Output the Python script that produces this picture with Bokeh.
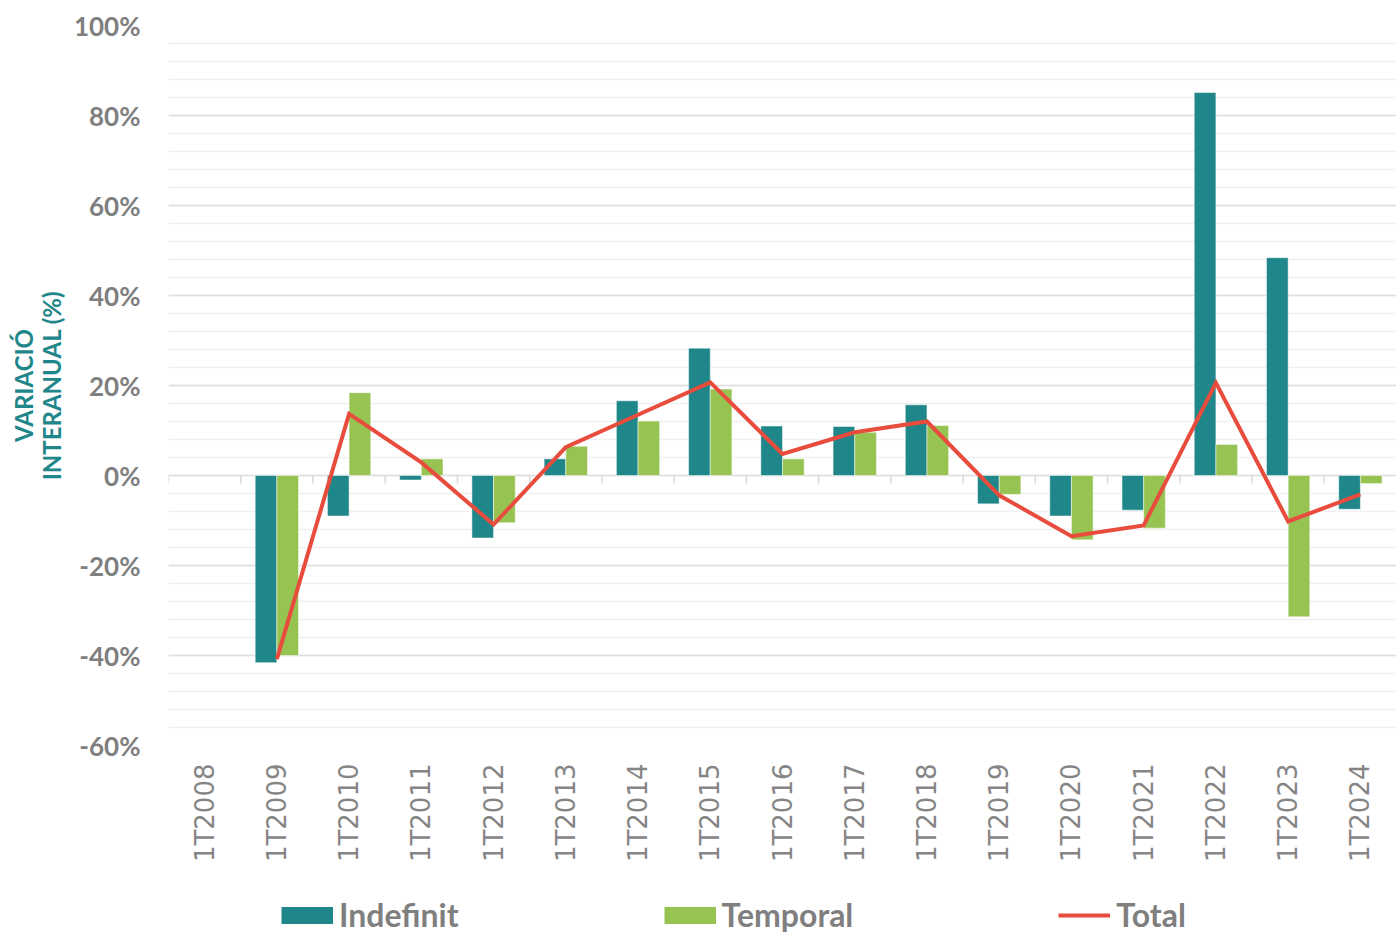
import math
from bokeh.plotting import figure
from bokeh.layouts import column
from bokeh.models import (ColumnDataSource, Range1d, FactorRange, SingleIntervalTicker,
                          CustomJSTickFormatter, Legend, LegendItem)
from bokeh.transform import dodge
from bokeh.embed import file_html
from bokeh.resources import INLINE

nan = float("nan")
categories = ["1T2008", "1T2009", "1T2010", "1T2011", "1T2012", "1T2013", "1T2014",
              "1T2015", "1T2016", "1T2017", "1T2018", "1T2019", "1T2020", "1T2021",
              "1T2022", "1T2023", "1T2024"]
indefinit = [nan, -41.6, -9.0, -1.0, -13.9, 3.7, 16.6, 28.3, 11.0, 10.9, 15.7, -6.3,
             -9.0, -7.7, 85.1, 48.4, -7.5]
temporal = [nan, -40.0, 18.4, 3.7, -10.5, 6.5, 12.1, 19.2, 3.7, 9.6, 11.1, -4.2,
            -14.3, -11.7, 6.9, -31.4, -1.8]
total = [nan, -40.8, 13.7, 2.9, -10.9, 6.3, 13.5, 20.7, 4.8, 9.6, 12.0, -4.4,
         -13.5, -11.1, 20.6, -10.2, -4.2]
series_labels = ["Indefinit", "Temporal", "Total"]

TEAL = "#1f868a"
GREEN = "#97c352"
RED = "#e84c3d"
GRAY = "#7f7f7f"

src = ColumnDataSource(data=dict(cat=categories, ind=indefinit, tem=temporal, tot=total,
                                 zero=[0] * len(categories), tick=[-1.8] * len(categories)))

p = figure(width=1396, height=890, output_backend="svg", toolbar_location=None,
           x_range=FactorRange(*categories), y_range=Range1d(-60, 100),
           min_border_left=168, min_border_right=0, min_border_top=25, min_border_bottom=145)
p.outline_line_color = None
p.background_fill_color = "white"

# grid
yt = SingleIntervalTicker(interval=20, num_minor_ticks=5)
p.yaxis.ticker = yt
p.ygrid.ticker = yt
p.ygrid.grid_line_color = "#dedede"
p.ygrid.grid_line_width = 1.5
p.ygrid.minor_grid_line_color = "#f0f0f0"
p.ygrid.minor_grid_line_width = 1.5
p.xgrid.grid_line_color = None

# y axis
p.yaxis.formatter = CustomJSTickFormatter(code="return tick.toFixed(0) + '%';")
p.yaxis.axis_line_color = None
p.yaxis.major_tick_line_color = None
p.yaxis.minor_tick_line_color = None
p.yaxis.major_label_standoff = 22
p.yaxis.major_label_text_font = "Lato"
p.yaxis.major_label_text_font_style = "bold"
p.yaxis.major_label_text_font_size = "26px"
p.yaxis.major_label_text_color = GRAY
p.yaxis.axis_label = "VARIACIÓ\nINTERANUAL (%)"
p.yaxis.axis_label_text_font = "Lato"
p.yaxis.axis_label_text_font_style = "bold"
p.yaxis.axis_label_text_font_size = "24px"
p.yaxis.axis_label_text_color = TEAL
p.yaxis.axis_label_standoff = 5
p.yaxis.axis_label_text_line_height = 0.95

# x axis
p.xaxis.axis_line_color = None
p.xaxis.major_tick_line_color = None
p.xaxis.minor_tick_line_color = None
p.xaxis.major_label_orientation = math.pi / 2
p.xaxis.major_label_standoff = 12
p.xaxis.major_label_text_font = "DejaVu Sans"
p.xaxis.major_label_text_font_size = "26px"
p.xaxis.major_label_text_color = "#858585"

# zero line tick marks at category boundaries
p.segment(x0=dodge("cat", -0.5, range=p.x_range), y0="zero",
          x1=dodge("cat", -0.5, range=p.x_range), y1="tick",
          source=src, line_color="#d9d9d9", line_width=1.5)

# bars
p.vbar(x=dodge("cat", -0.15, range=p.x_range), top="ind", bottom=0, width=0.3,
       source=src, fill_color=TEAL, line_color="white", line_width=0.5)
p.vbar(x=dodge("cat", 0.15, range=p.x_range), top="tem", bottom=0, width=0.3,
       source=src, fill_color=GREEN, line_color="white", line_width=0.5)
p.line(x="cat", y="tot", source=src, line_color=RED, line_width=4, line_join="miter")

# legend strip as a separate figure so nothing is clipped
lf = figure(width=1396, height=44, output_backend="svg", toolbar_location=None,
            x_range=Range1d(0, 1), y_range=Range1d(0, 1),
            min_border_left=168, min_border_right=0, min_border_top=0, min_border_bottom=0)
lf.axis.visible = False
lf.grid.visible = False
lf.outline_line_color = None
proxy = ColumnDataSource(data=dict(x=[nan], y=[nan]))
lg_ind = lf.line(x="x", y="y", source=proxy, line_color=TEAL, line_width=17, line_cap="butt")
lg_tem = lf.line(x="x", y="y", source=proxy, line_color=GREEN, line_width=17, line_cap="butt")
lg_tot = lf.line(x="x", y="y", source=proxy, line_color=RED, line_width=4, line_cap="butt")

legend = Legend(items=[LegendItem(label=series_labels[0], renderers=[lg_ind]),
                       LegendItem(label=series_labels[1], renderers=[lg_tem]),
                       LegendItem(label=series_labels[2], renderers=[lg_tot])],
                orientation="horizontal", location=(113, 0),
                glyph_width=52, glyph_height=36, label_height=36, label_standoff=6,
                spacing=205, padding=0, margin=0, border_line_color=None,
                background_fill_alpha=0,
                label_text_font="Lato", label_text_font_style="bold",
                label_text_font_size="32px", label_text_color=GRAY)
lf.add_layout(legend)

open("out.html", "w").write(file_html(column(p, lf, spacing=0), INLINE))
